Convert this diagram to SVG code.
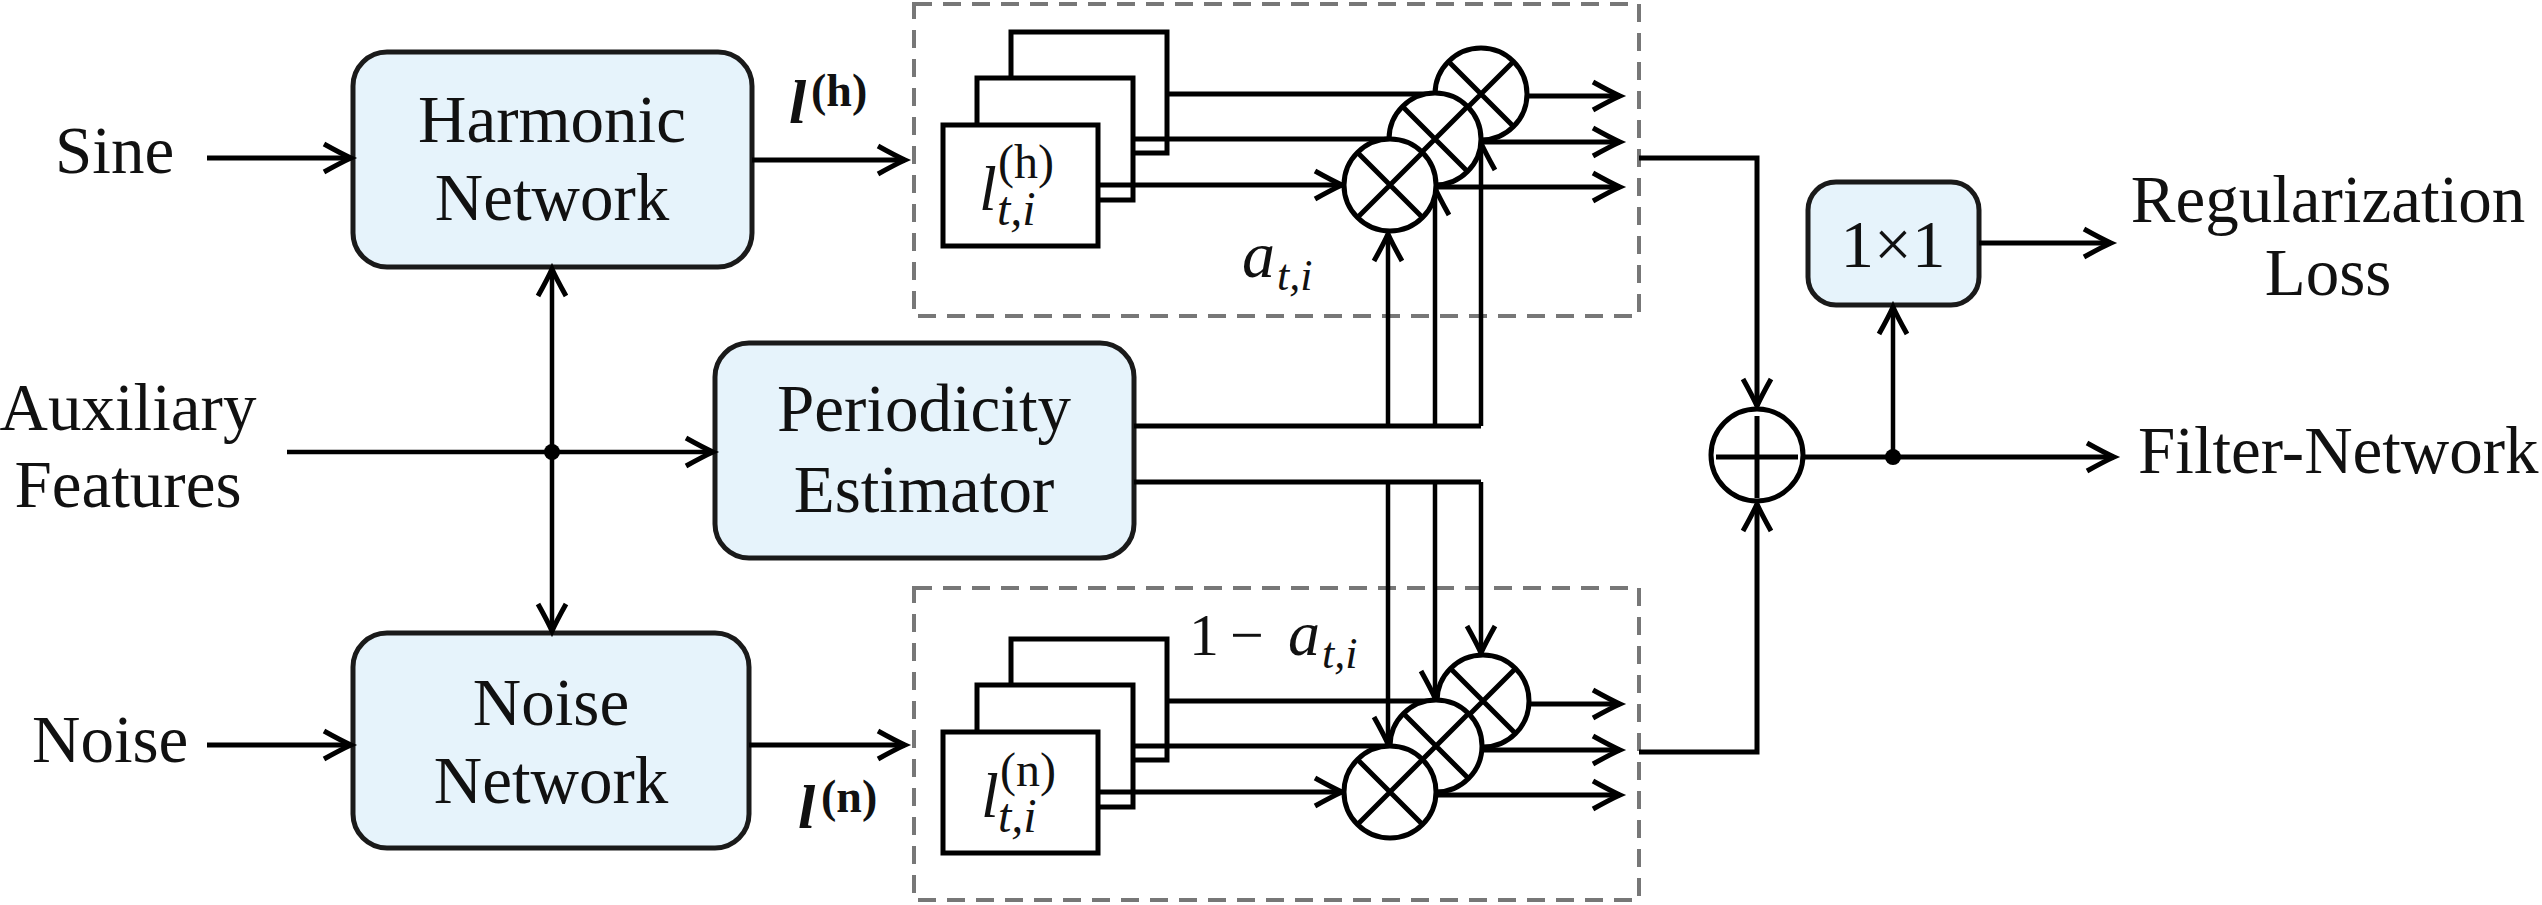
<svg xmlns="http://www.w3.org/2000/svg" xmlns:xlink="http://www.w3.org/1999/xlink" width="2542" height="905" viewBox="0 0 2542 905">
<defs>
<style>
.box{fill:#e6f3fb;stroke:#1a1a1a;stroke-width:5}
.t{font-family:'Liberation Serif',serif;font-size:67px;fill:#111}
.m{font-family:'Liberation Serif',serif;font-style:italic;fill:#111}
.u{font-family:'Liberation Serif',serif;fill:#111}
.ln{fill:none;stroke:#000;stroke-width:5}
.thin{fill:none;stroke:#000;stroke-width:4.5}
.arr{marker-end:url(#ah)}
.dash{fill:none;stroke:#777;stroke-width:4;stroke-dasharray:18 11}
.sq{fill:#fff;stroke:#000;stroke-width:5}
.circ{fill:#fff;stroke:#000;stroke-width:5}
</style>
<marker id="ah" markerUnits="userSpaceOnUse" markerWidth="40" markerHeight="40" viewBox="-32 -20 40 40" refX="0" refY="0" orient="auto" overflow="visible">
<path d="M-27,-14 Q-9,-4 0,0 Q-9,4 -27,14" fill="none" stroke="#000" stroke-width="5"/>
</marker>
<g id="mul">
<circle cx="0" cy="0" r="46" class="circ"/>
<path d="M-32.5,-32.5 L32.5,32.5 M32.5,-32.5 L-32.5,32.5" class="ln"/>
</g>
</defs>
<rect width="2542" height="905" fill="#fff"/>

<g id="sine"><text class="t" x="55" y="173">Sine</text></g>
<g id="noise-in"><text class="t" x="32" y="762">Noise</text></g>
<g id="aux"><text class="t" text-anchor="middle" x="128" y="430">Auxiliary</text><text class="t" text-anchor="middle" x="128" y="507">Features</text></g>

<g id="harmonic-network">
<rect class="box" x="353" y="52" width="399" height="215" rx="34"/>
<text class="t" text-anchor="middle" x="552" y="142">Harmonic</text>
<text class="t" text-anchor="middle" x="552" y="220">Network</text>
</g>
<g id="noise-network">
<rect class="box" x="353" y="633" width="396" height="215" rx="34"/>
<text class="t" text-anchor="middle" x="551" y="725">Noise</text>
<text class="t" text-anchor="middle" x="551" y="803">Network</text>
</g>
<g id="periodicity-estimator">
<rect class="box" x="715" y="343" width="419" height="215" rx="34"/>
<text class="t" text-anchor="middle" x="924" y="431">Periodicity</text>
<text class="t" text-anchor="middle" x="924" y="512">Estimator</text>
</g>
<g id="conv1x1">
<rect class="box" x="1808" y="182" width="171" height="123" rx="28"/>
<text class="u" font-size="67" text-anchor="middle" x="1893" y="267">1×1</text>
</g>
<g id="reg-loss"><text class="t" text-anchor="middle" x="2328" y="222">Regularization</text><text class="t" text-anchor="middle" x="2328" y="295">Loss</text></g>
<g id="filter-network"><text class="t" x="2138" y="473">Filter-Network</text></g>

<g id="harmonic-block">
<rect class="dash" x="914" y="4" width="725" height="312"/>
<rect class="sq" x="1011" y="32" width="156" height="121"/>
<rect class="sq" x="977" y="78" width="156" height="122"/>
<rect class="sq" x="943" y="125" width="155" height="121"/>
<text class="m" font-size="64" x="979" y="210">l</text>
<text class="u" font-size="48" x="998" y="178">(h)</text>
<text class="m" font-size="48" x="997" y="225">t,i</text>
</g>
<g id="noise-block">
<rect class="dash" x="914" y="588" width="725" height="312"/>
<rect class="sq" x="1011" y="639" width="156" height="121"/>
<rect class="sq" x="977" y="685" width="156" height="122"/>
<rect class="sq" x="943" y="732" width="155" height="121"/>
<text class="m" font-size="64" x="981" y="817">l</text>
<text class="u" font-size="48" x="1000" y="786">(n)</text>
<text class="m" font-size="48" x="998" y="832">t,i</text>
</g>

<g id="connectors">
<path class="ln arr" d="M207,158 H351"/>
<path class="ln arr" d="M207,745 H351"/>
<path class="ln arr" d="M752,160 H905"/>
<path class="ln arr" d="M749,745 H905"/>
<path class="thin arr" d="M287,452 H713"/>
<path class="thin arr" d="M552,452 V269"/>
<path class="thin arr" d="M552,452 V631"/>
<circle cx="552" cy="452" r="8" fill="#000"/>
<path class="ln" d="M1167,94 H1481"/>
<path class="ln" d="M1133,139 H1435"/>
<path class="ln arr" d="M1098,185 H1342"/>
<path class="ln arr" d="M1481,96 H1620"/>
<path class="ln arr" d="M1435,142 H1620"/>
<path class="ln arr" d="M1390,187 H1620"/>
<path class="ln" d="M1167,701 H1483"/>
<path class="ln" d="M1133,746 H1435"/>
<path class="ln arr" d="M1098,792 H1342"/>
<path class="ln arr" d="M1483,704 H1620"/>
<path class="ln arr" d="M1435,750 H1620"/>
<path class="ln arr" d="M1390,795 H1620"/>
<path class="ln" d="M1134,426 H1481"/>
<path class="thin arr" d="M1388,426 V234"/>
<path class="thin arr" d="M1435,426 V188"/>
<path class="thin arr" d="M1481,426 V143"/>
<path class="ln" d="M1134,482 H1481"/>
<path class="thin arr" d="M1388,482 V744"/>
<path class="thin arr" d="M1435,482 V698"/>
<path class="thin arr" d="M1481,482 V653"/>
<path class="ln arr" d="M1639,158 H1757 V406"/>
<path class="ln arr" d="M1639,752 H1757 V504"/>
<path class="ln arr" d="M1804,457 H2114"/>
<circle cx="1893" cy="457" r="8" fill="#000"/>
<path class="thin arr" d="M1893,457 V307"/>
<path class="ln arr" d="M1979,243 H2111"/>
</g>

<g id="mul-h">
<use xlink:href="#mul" href="#mul" x="1481" y="94"/>
<use xlink:href="#mul" href="#mul" x="1435" y="139"/>
<use xlink:href="#mul" href="#mul" x="1390" y="185"/>
</g>
<g id="mul-n">
<use xlink:href="#mul" href="#mul" x="1483" y="701"/>
<use xlink:href="#mul" href="#mul" x="1436" y="746"/>
<use xlink:href="#mul" href="#mul" x="1390" y="792"/>
</g>
<g id="sum">
<circle cx="1757" cy="455" r="46" class="circ"/>
<path class="ln" d="M1716,457 H1798 M1757,416 V498"/>
</g>

<g id="labels">
<text class="m" font-weight="bold" font-size="62" x="789" y="123">l</text>
<text class="u" font-weight="bold" font-size="46" x="811" y="106">(h)</text>
<text class="m" font-weight="bold" font-size="62" x="798" y="828">l</text>
<text class="u" font-weight="bold" font-size="46" x="821" y="812">(n)</text>
<text class="m" font-size="66" x="1242" y="277">a</text>
<text class="m" font-size="44" x="1277" y="290">t,i</text>
<text class="u" font-size="60" x="1189" y="655">1</text>
<text class="u" font-size="60" x="1230" y="655">−</text>
<text class="m" font-size="64" x="1288" y="655">a</text>
<text class="m" font-size="44" x="1322" y="668">t,i</text>
</g>
</svg>
